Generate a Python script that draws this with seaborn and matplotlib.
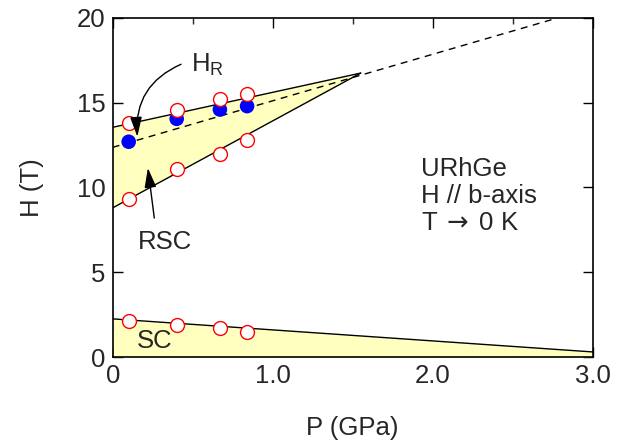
import matplotlib
matplotlib.use("Agg")
import matplotlib.pyplot as plt
import seaborn as sns

# measured points
p = [0.10, 0.40, 0.67, 0.84]
h_upper = [13.8, 14.6, 15.2, 15.5]
h_r = [12.7, 14.05, 14.6, 14.8]
h_lower = [9.35, 11.1, 12.0, 12.8]
h_sc = [2.15, 1.9, 1.7, 1.45]

# boundary lines
rsc_p = [0.0, 1.55]
rsc_top = [13.55, 16.75]
rsc_bot = [8.8, 16.75]
hr_p = [0.0, 2.78]
hr_h = [12.37, 20.0]
sc_p = [0.0, 3.0]
sc_h = [2.25, 0.3]

fill = "#ffffc0"
fs = 18.5

sns.set_style("ticks")
plt.rcParams["font.family"] = ["Liberation Sans", "DejaVu Sans"]
plt.rcParams["mathtext.fontset"] = "custom"
plt.rcParams["mathtext.rm"] = "Liberation Sans"
plt.rcParams["mathtext.it"] = "Liberation Sans"
plt.rcParams["mathtext.sf"] = "DejaVu Sans"

fig = plt.figure(figsize=(6.24, 4.43), dpi=100)
ax = fig.add_axes([0.1806, 0.1941, 0.7692, 0.7653])

ax.fill_between(rsc_p, rsc_bot, rsc_top, color=fill, lw=0, zorder=1)
ax.fill_between(sc_p, [0, 0], sc_h, color=fill, lw=0, zorder=1)

for yy in (rsc_top, rsc_bot):
    sns.lineplot(x=rsc_p, y=yy, color="k", lw=1, ax=ax, zorder=2)
sns.lineplot(x=sc_p, y=sc_h, color="k", lw=1, ax=ax, zorder=2)
sns.lineplot(x=hr_p, y=hr_h, color="k", lw=1, linestyle=(0, (5, 4)), ax=ax, zorder=2)

sns.scatterplot(x=p, y=h_r, color="#0000ff", s=110, edgecolor="none", ax=ax, zorder=3)
for yy in (h_upper, h_lower, h_sc):
    sns.scatterplot(x=p, y=yy, color="white", edgecolor="#ff0000", linewidth=1,
                    s=100, ax=ax, zorder=4)

ax.set_xlim(0, 3.0)
ax.set_ylim(0, 20)
ax.set_xticks([0, 1.0, 2.0, 3.0])
ax.set_xticklabels(["0", "1.0", "2.0", "3.0"])
ax.set_xticks([0.5, 1.5, 2.5], minor=True)
ax.set_yticks([0, 5, 10, 15, 20])
ax.tick_params(direction="in", top=True, right=True, length=7, width=1,
               labelsize=fs, pad=5, color="k")
ax.tick_params(which="minor", direction="in", top=True, length=4, width=1)
for s in ax.spines.values():
    s.set_linewidth(1.2)
    s.set_color("k")

ax.set_xlabel("P (GPa)", fontsize=fs, labelpad=20)
ax.set_ylabel("H (T)", fontsize=fs, labelpad=24)

ax.annotate("", xy=(0.154, 13.0), xytext=(0.427, 17.27),
            arrowprops=dict(arrowstyle="-|>,head_length=0.6,head_width=0.18",
                            connectionstyle="arc3,rad=0.35", color="k", lw=1,
                            mutation_scale=20, shrinkA=0, shrinkB=0), zorder=5)
ax.text(0.49, 17.25, r"H$_\mathrm{R}$", fontsize=fs, va="center", ha="left")

ax.annotate("", xy=(0.22, 11.15), xytext=(0.26, 8.2),
            arrowprops=dict(arrowstyle="-|>,head_length=0.6,head_width=0.18",
                            color="k", lw=1, mutation_scale=20,
                            shrinkA=0, shrinkB=0), zorder=5)
ax.text(0.33, 6.8, "RSC", fontsize=fs, ha="center", va="center")
ax.text(0.265, 0.95, "SC", fontsize=fs, ha="center", va="center")

ax.text(1.93, 11.1, "URhGe", fontsize=fs, va="center")
ax.text(1.93, 9.5, "H // b-axis", fontsize=fs, va="center")
ax.text(1.93, 7.9, r"T$\;\mathsf{\rightarrow}\;$0 K", fontsize=fs, va="center")

fig.savefig("out.png", dpi=100)
